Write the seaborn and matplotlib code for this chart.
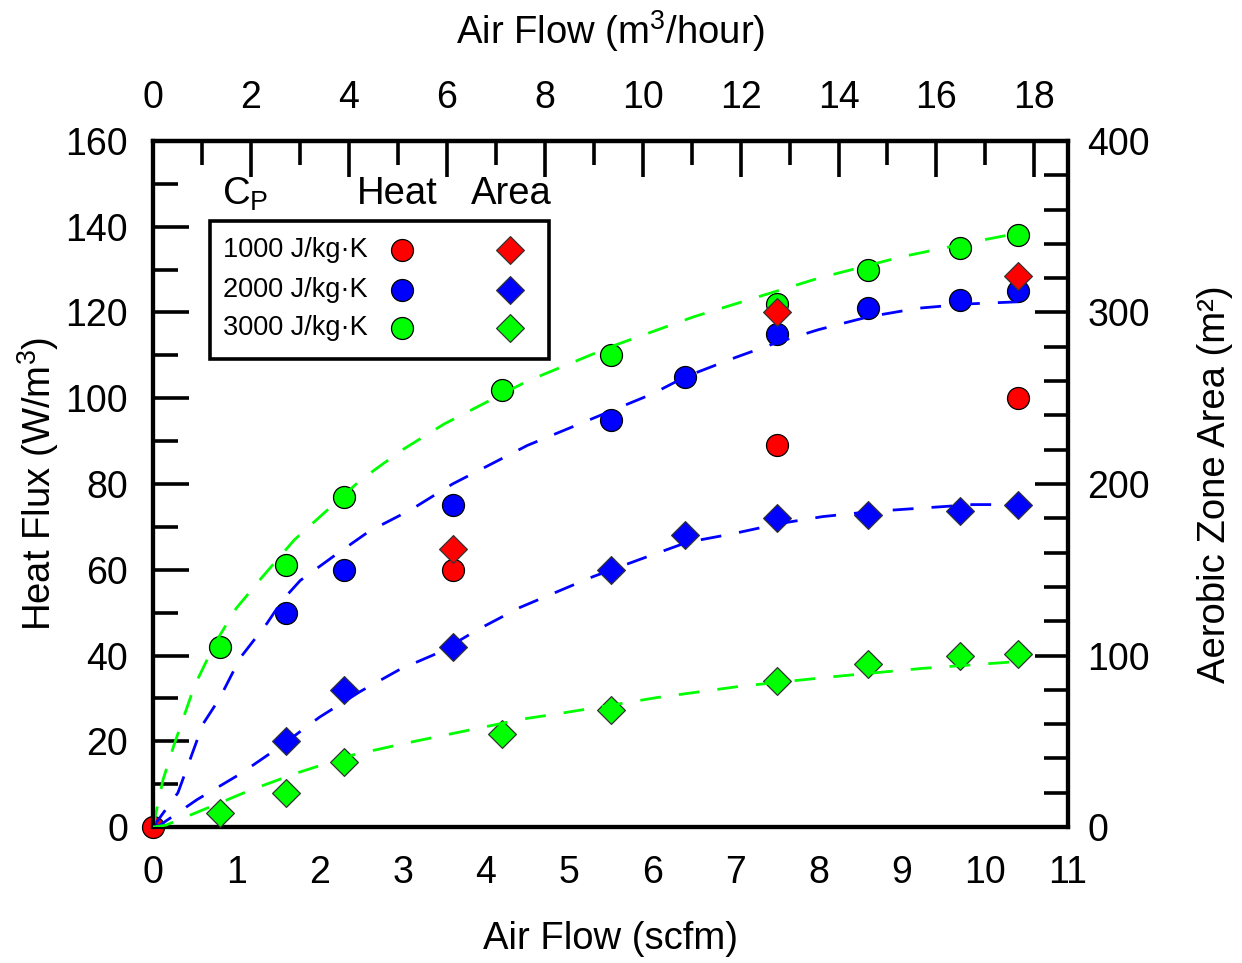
import matplotlib
matplotlib.use("Agg")
import matplotlib.pyplot as plt
import numpy as np
import pandas as pd
import seaborn as sns
from matplotlib.patches import Rectangle
from matplotlib.ticker import MultipleLocator

# ---------------- data ----------------
cp_labels = ["1000 J/kg·K", "2000 J/kg·K", "3000 J/kg·K"]
colors = ["#ff0000", "#0000ff", "#00ff00"]

# Heat flux (W/m3) vs air flow (scfm)
heat_x_1000 = [0.0, 3.6, 7.5, 10.4]
heat_y_1000 = [0, 60, 89, 100]
heat_x_2000 = [1.6, 2.3, 3.6, 5.5, 6.4, 7.5, 8.6, 9.7, 10.4]
heat_y_2000 = [50, 60, 75, 95, 105, 115, 121, 123, 125]
heat_x_3000 = [0.8, 1.6, 2.3, 4.2, 5.5, 7.5, 8.6, 9.7, 10.4]
heat_y_3000 = [42, 61, 77, 102, 110, 122, 130, 135, 138]

# Aerobic zone area (m2) vs air flow (scfm)
area_x_1000 = [3.6, 7.5, 10.4]
area_y_1000 = [162, 300, 321]
area_x_2000 = [1.6, 2.3, 3.6, 5.5, 6.4, 7.5, 8.6, 9.7, 10.4]
area_y_2000 = [50, 80, 105, 150, 170, 180, 182, 184, 188]
area_x_3000 = [0.8, 1.6, 2.3, 4.2, 5.5, 7.5, 8.6, 9.7, 10.4]
area_y_3000 = [8, 20, 38, 54, 68, 85, 95, 100, 101]

# Fitted trend curves
fit_heat_x_2000 = [0, 0.3, 0.6, 0.8, 1.05, 1.37, 1.56, 1.77, 2.16, 2.6, 3.1, 3.6, 4.0,
                   4.5, 5.0, 5.5, 6.0, 6.4, 7.0, 7.5, 8.0, 8.6, 9.2, 9.8, 10.4]
fit_heat_y_2000 = [0, 8, 24, 30, 39.5, 47.5, 53, 57.5, 63, 69, 74, 80, 84,
                   89, 93, 97, 101, 105, 109.5, 113, 116, 119, 121, 122, 122.5]
fit_heat_x_3000 = [0, 0.12, 0.25, 0.5, 0.75, 1.0, 1.3, 1.7, 2.1, 2.5, 3.0, 3.5, 4.0,
                   4.5, 5.0, 5.5, 6.0, 6.5, 7.0, 7.5, 8.0, 8.5, 9.0, 9.5, 10.0, 10.4]
fit_heat_y_3000 = [0, 11, 19, 33, 43, 51, 58, 67, 74, 81, 88, 94, 99,
                   104, 108, 112, 115.5, 119, 122, 125, 128, 130.5, 133, 135, 137, 138.5]
fit_area_x_2000 = [0, 0.08, 0.53, 1.05, 1.53, 2.0, 2.49, 2.97, 3.45, 3.9, 4.41, 4.8,
                   5.29, 5.85, 6.42, 6.97, 7.54, 8.05, 8.65, 9.25, 9.85, 10.4]
fit_area_y_2000 = [0, 1, 16, 31, 47, 64, 79, 92, 102, 115, 128, 136,
                   146, 156, 166, 171, 177, 181, 184, 186, 188, 188]
fit_area_x_3000 = [0, 0.15, 0.65, 1.17, 1.73, 2.4, 3.05, 3.65, 4.45, 4.86, 5.5,
                   6.06, 7.05, 8.14, 9.25, 10.4]
fit_area_y_3000 = [0, 1, 11, 21.5, 31.5, 42, 49, 55, 63, 66, 71,
                   75.5, 82, 87.5, 92.5, 96.5]

SCFM_TO_M3H = 1.699

# ---------------- style ----------------
sns.set_style("white")
plt.rcParams["font.family"] = ["Liberation Sans", "DejaVu Sans"]
plt.rcParams["mathtext.default"] = "regular"
for key in ("text.color", "axes.labelcolor", "xtick.color", "ytick.color"):
    plt.rcParams[key] = "black"

FS_TICK = 27
FS_LAB = 27.5
CIRCLE_S = 250
DIAMOND_S = 200

fig = plt.figure(figsize=(12.42, 9.63), dpi=100)
ax = fig.add_axes([0.1232, 0.1412, 0.7368, 0.7124])
ax2 = ax.twinx()

heat_sets = [(heat_x_1000, heat_y_1000), (heat_x_2000, heat_y_2000), (heat_x_3000, heat_y_3000)]
area_sets = [(area_x_1000, area_y_1000), (area_x_2000, area_y_2000), (area_x_3000, area_y_3000)]


def dashed_fit(axis, xs, ys, color):
    df = pd.DataFrame({"x": xs, "y": ys})
    sns.lineplot(data=df, x="x", y="y", ax=axis, color=color, lw=2.0, sort=False, zorder=4)
    axis.lines[-1].set_dashes([7.5, 6.5])


for (hx, hy), c in zip(heat_sets, colors):
    df = pd.DataFrame({"x": hx, "y": hy})
    sns.scatterplot(data=df, x="x", y="y", ax=ax, marker="o", s=CIRCLE_S, color=c,
                    edgecolor="black", linewidth=0.9, clip_on=False, zorder=3)

dashed_fit(ax, fit_heat_x_2000, fit_heat_y_2000, colors[1])
dashed_fit(ax, fit_heat_x_3000, fit_heat_y_3000, colors[2])

for (axx, ayy), c in zip(area_sets, colors):
    df = pd.DataFrame({"x": axx, "y": ayy})
    sns.scatterplot(data=df, x="x", y="y", ax=ax2, marker="D", s=DIAMOND_S, color=c,
                    edgecolor="#333333", linewidth=0.9, clip_on=False, zorder=3)

dashed_fit(ax2, fit_area_x_2000, fit_area_y_2000, colors[1])
dashed_fit(ax2, fit_area_x_3000, fit_area_y_3000, colors[2])

# ---------------- axes ----------------
ax.set_xlim(0, 11)
ax.set_ylim(0, 160)
ax2.set_ylim(0, 400)

ax.xaxis.set_major_locator(MultipleLocator(1))
ax.xaxis.set_minor_locator(MultipleLocator(0.5))
ax.yaxis.set_major_locator(MultipleLocator(20))
ax.yaxis.set_minor_locator(MultipleLocator(10))
ax2.yaxis.set_major_locator(MultipleLocator(100))
ax2.yaxis.set_minor_locator(MultipleLocator(20))

tick_kw = dict(direction="in", width=2.6, color="black", labelsize=FS_TICK)
ax.tick_params(axis="x", which="major", length=26, pad=20, **tick_kw)
ax.tick_params(axis="x", which="minor", length=17, direction="in", width=2.6)
ax.tick_params(axis="y", which="major", length=26, pad=18, left=True, **tick_kw)
ax.tick_params(axis="y", which="minor", length=18, direction="in", width=2.6, left=True)
ax2.tick_params(axis="y", which="major", length=24, pad=14, right=True, **tick_kw)
ax2.tick_params(axis="y", which="minor", length=17, direction="in", width=2.6, right=True)

top = ax.secondary_xaxis("top", functions=(lambda v: v * SCFM_TO_M3H,
                                           lambda v: v / SCFM_TO_M3H))
top.xaxis.set_major_locator(MultipleLocator(2))
top.xaxis.set_minor_locator(MultipleLocator(1))
top.tick_params(axis="x", which="major", length=26, pad=18, **tick_kw)
top.tick_params(axis="x", which="minor", length=17, direction="in", width=2.6)
top.set_xlabel("Air Flow (m$^3$/hour)", fontsize=FS_LAB, labelpad=26)
top.spines["top"].set_linewidth(3)

for a in (ax, ax2):
    for sp in a.spines.values():
        sp.set_linewidth(3)
        sp.set_color("black")

ax.set_xlabel("Air Flow (scfm)", fontsize=FS_LAB, labelpad=22)
ax.set_ylabel("Heat Flux (W/m$^3$)", fontsize=FS_LAB, labelpad=3)
ax2.set_ylabel("Aerobic Zone Area (m²)", fontsize=FS_LAB, labelpad=34)

# ---------------- legend ----------------
T = ax2.transAxes
ax2.add_patch(Rectangle((0.0623, 0.6822), 0.3705, 0.2012, transform=T, fill=False,
                        edgecolor="black", linewidth=2.6, zorder=10, clip_on=False))
ax2.text(0.075, 0.922, "C$_{\\mathregular{P}}$", transform=T, fontsize=FS_LAB,
         va="center", ha="left", zorder=11)
ax2.text(0.2665, 0.922, "Heat", transform=T, fontsize=FS_LAB, va="center", ha="center", zorder=11)
ax2.text(0.392, 0.922, "Area", transform=T, fontsize=FS_LAB, va="center", ha="center", zorder=11)
row_y = [0.8405, 0.7835, 0.728]
for lab, c, yy in zip(cp_labels, colors, row_y):
    ax2.text(0.076, yy, lab, transform=T, fontsize=19.5, va="center", ha="left", zorder=11)
    ax2.scatter([0.272], [yy], transform=T, marker="o", s=CIRCLE_S, color=c,
                edgecolor="black", linewidth=0.9, zorder=11, clip_on=False)
    ax2.scatter([0.39], [yy], transform=T, marker="D", s=DIAMOND_S, color=c,
                edgecolor="#333333", linewidth=0.9, zorder=11, clip_on=False)

fig.savefig("out.png", dpi=100)
